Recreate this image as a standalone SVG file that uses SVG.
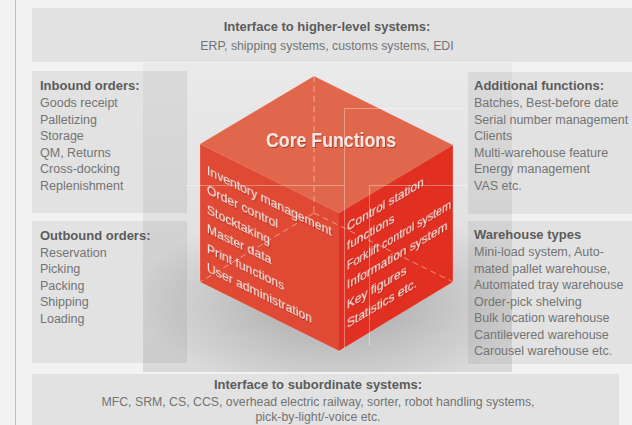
<svg xmlns="http://www.w3.org/2000/svg" width="632" height="425" viewBox="0 0 632 425">
<defs>
<style>
.hd{font-family:"Liberation Sans",Arial,sans-serif;font-weight:bold;font-size:13px;fill:#5b5c5c}
.tx{font-family:"Liberation Sans",Arial,sans-serif;font-size:12.5px;fill:#737474}
.ct{font-family:"Liberation Sans",Arial,sans-serif;fill:#fbe6e1}
.box{fill:#000;fill-opacity:0.062}
.faint{fill:none;stroke:#fff;stroke-opacity:0.35;stroke-width:1}
.hid{fill:none;stroke:#fff;stroke-opacity:0.45;stroke-width:1;stroke-dasharray:6 4}
</style>
<linearGradient id="bdg" x1="0" y1="0" x2="0" y2="1">
<stop offset="0" stop-color="#000" stop-opacity="0.035"/>
<stop offset="1" stop-color="#000" stop-opacity="0.1"/>
</linearGradient>
<radialGradient id="shd" cx="0.5" cy="0.5" r="0.5">
<stop offset="0" stop-color="#000" stop-opacity="0.26"/>
<stop offset="0.6" stop-color="#000" stop-opacity="0.1"/>
<stop offset="1" stop-color="#000" stop-opacity="0"/>
</radialGradient>
<clipPath id="bdc"><rect x="143" y="63" width="369" height="309"/></clipPath>
<filter id="ts" x="-10%" y="-30%" width="120%" height="160%">
<feDropShadow dx="0.8" dy="1" stdDeviation="0.7" flood-color="#6e1308" flood-opacity="0.55"/>
</filter>
</defs>
<rect x="0" y="0" width="632" height="425" fill="#f2f2f2"/>
<line x1="15.5" y1="0" x2="15.5" y2="425" stroke="#f2a9b1" stroke-width="1"/>

<g id="top-interface">
<rect class="box" x="32" y="8" width="600" height="54"/>
<text class="hd" x="327" y="31" text-anchor="middle">Interface to higher-level systems:</text>
<text class="tx" x="327" y="50" text-anchor="middle" style="font-size:12.3px">ERP, shipping systems, customs systems, EDI</text>
</g>

<g id="bottom-interface">
<rect class="box" x="32" y="374" width="587" height="51"/>
<text class="hd" x="318" y="389" text-anchor="middle">Interface to subordinate systems:</text>
<text class="tx" x="318" y="406" text-anchor="middle" style="font-size:12.3px">MFC, SRM, CS, CCS, overhead electric railway, sorter, robot handling systems,</text>
<text class="tx" x="318" y="421" text-anchor="middle" style="font-size:12.3px">pick-by-light/-voice etc.</text>
</g>

<g id="backdrop">
<rect x="143" y="63" width="369" height="309" fill="url(#bdg)"/>
<g clip-path="url(#bdc)">
<ellipse cx="335" cy="300" rx="200" ry="95" fill="url(#shd)"/>
</g>
</g>

<g id="inbound">
<rect class="box" x="32" y="71" width="155" height="142"/>
<text class="hd" x="40" y="90">Inbound orders:</text>
<text class="tx" x="40" y="107">Goods receipt</text>
<text class="tx" x="40" y="123.5">Palletizing</text>
<text class="tx" x="40" y="140">Storage</text>
<text class="tx" x="40" y="156.5">QM, Returns</text>
<text class="tx" x="40" y="173">Cross-docking</text>
<text class="tx" x="40" y="189.5">Replenishment</text>
</g>

<g id="outbound">
<rect class="box" x="32" y="221" width="155" height="142"/>
<text class="hd" x="40" y="240">Outbound orders:</text>
<text class="tx" x="40" y="256.5">Reservation</text>
<text class="tx" x="40" y="273">Picking</text>
<text class="tx" x="40" y="289.5">Packing</text>
<text class="tx" x="40" y="306">Shipping</text>
<text class="tx" x="40" y="322.5">Loading</text>
</g>

<g id="additional">
<rect class="box" x="468" y="72" width="164" height="142"/>
<text class="hd" x="474" y="90">Additional functions:</text>
<text class="tx" x="474" y="107">Batches, Best-before date</text>
<text class="tx" x="474" y="123.5">Serial number management</text>
<text class="tx" x="474" y="140">Clients</text>
<text class="tx" x="474" y="156.5">Multi-warehouse feature</text>
<text class="tx" x="474" y="173">Energy management</text>
<text class="tx" x="474" y="189.5">VAS etc.</text>
</g>

<g id="warehouse">
<rect class="box" x="468" y="221" width="164" height="143"/>
<text class="hd" x="474" y="239">Warehouse types</text>
<text class="tx" x="474" y="256">Mini-load system, Auto-</text>
<text class="tx" x="474" y="272.5">mated pallet warehouse,</text>
<text class="tx" x="474" y="289">Automated tray warehouse</text>
<text class="tx" x="474" y="305.5">Order-pick shelving</text>
<text class="tx" x="474" y="322">Bulk location warehouse</text>
<text class="tx" x="474" y="338.5">Cantilevered warehouse</text>
<text class="tx" x="474" y="355">Carousel warehouse etc.</text>
</g>

<g id="core-cube">
<polygon points="200,144 314,76 453,145 339,213" fill="#e0674b"/>
<polygon points="200,144 339,213 339,351 200,282" fill="#e04a34"/>
<polygon points="339,213 453,145 453,282 339,351" fill="#e13021"/>
<polygon points="200,144 314,76 453,145 453,282 339,351 200,282" fill="none" stroke="#fff" stroke-opacity="0.2" stroke-width="1"/>
<path class="hid" d="M314,76 V213 M314,213 L200,282 M314,213 L453,282"/>
<text class="ct" x="331" y="147" text-anchor="middle" font-weight="bold" font-size="19.5" textLength="130" lengthAdjust="spacingAndGlyphs" filter="url(#ts)">Core Functions</text>
<g transform="matrix(1,0.4928,0,1,200,144)" filter="url(#ts)">
<text class="ct" x="7" y="27" font-size="12.2">Inventory management</text>
<text class="ct" x="7" y="46.5" font-size="12.2">Order control</text>
<text class="ct" x="7" y="66" font-size="12.2">Stocktaking</text>
<text class="ct" x="7" y="85.5" font-size="12.2">Master data</text>
<text class="ct" x="7" y="105" font-size="12.2">Print functions</text>
<text class="ct" x="7" y="124.5" font-size="12.2">User administration</text>
</g>
<g transform="matrix(1,-0.5965,0,1,339,213)" filter="url(#ts)">
<text class="ct" x="8" y="23" font-size="11.9">Control station</text>
<text class="ct" x="8" y="42.4" font-size="11.9">functions</text>
<text class="ct" x="8" y="61.8" font-size="11.9" textLength="104" lengthAdjust="spacingAndGlyphs">Forklift control system</text>
<text class="ct" x="8" y="81.2" font-size="11.9">Information system</text>
<text class="ct" x="8" y="100.6" font-size="11.9">Key figures</text>
<text class="ct" x="8" y="120" font-size="11.9">Statistics etc.</text>
</g>
</g>

<g id="connectors">
<path class="faint" d="M186,185.5 H344.5 V348"/>
<path class="faint" d="M344.5,185 V108.5 H468"/>
<path class="faint" d="M369.5,346 V185.5 H468"/>
</g>
</svg>
